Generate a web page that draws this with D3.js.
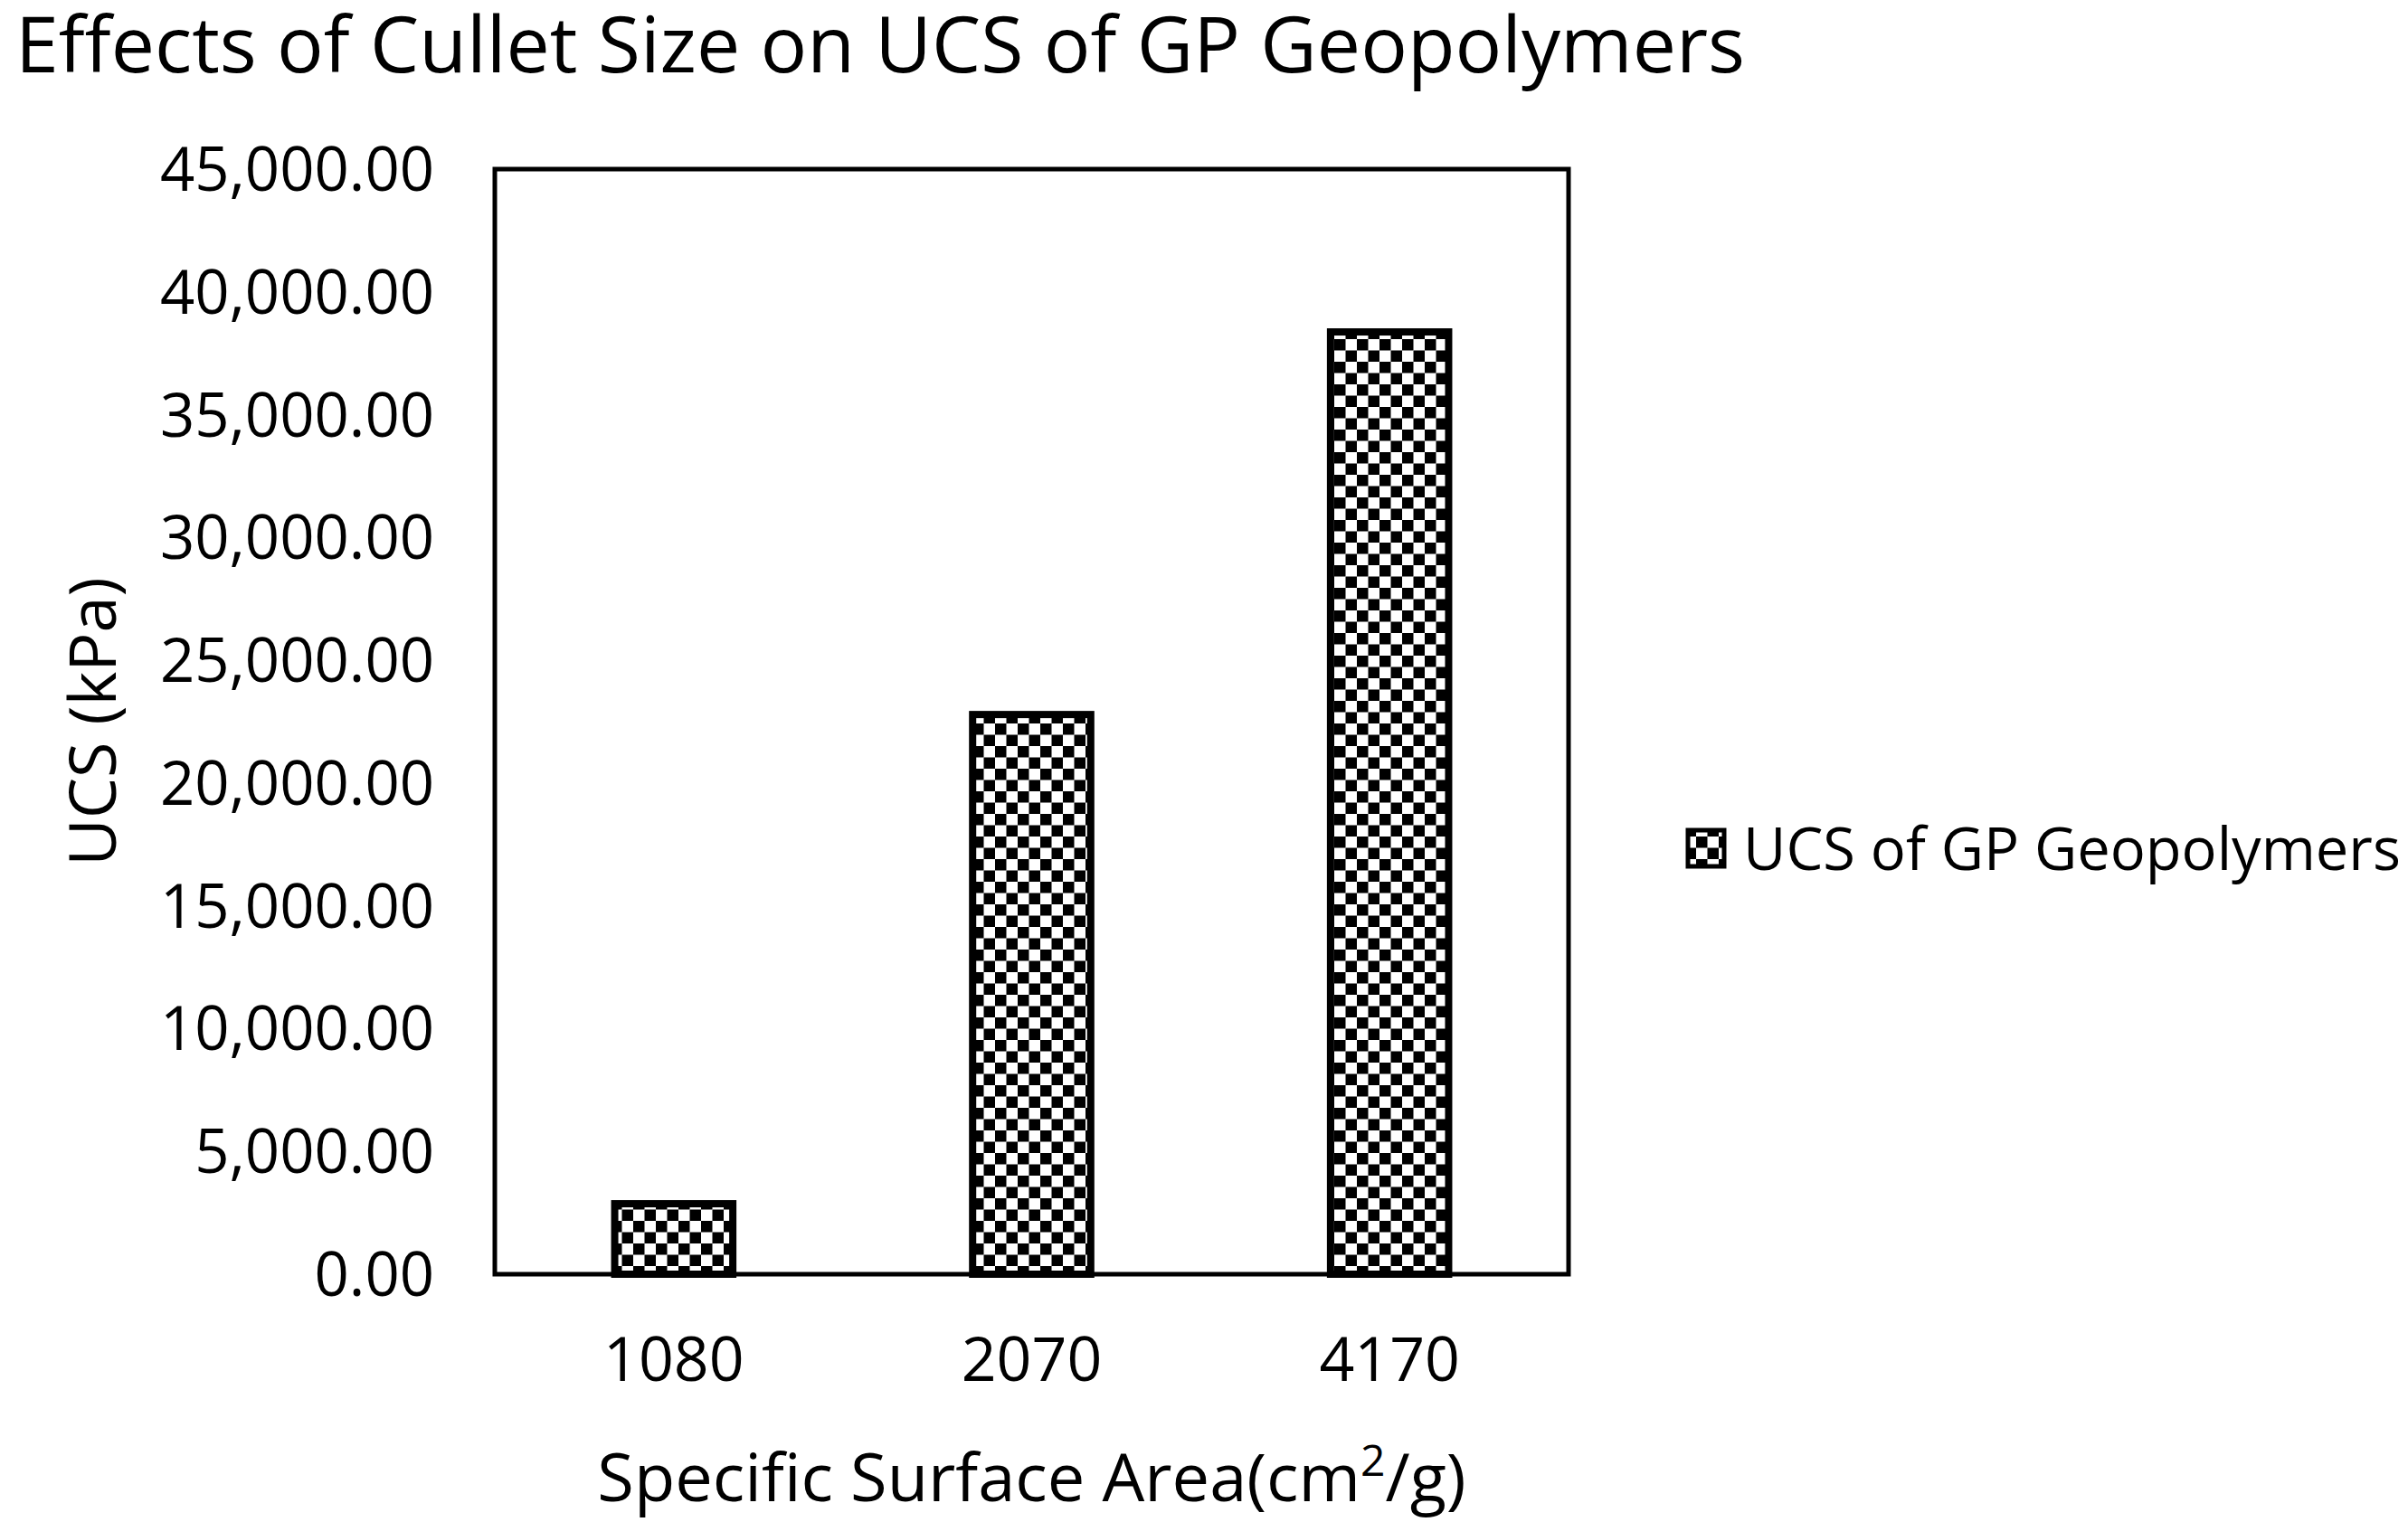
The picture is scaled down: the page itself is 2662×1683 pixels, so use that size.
<!DOCTYPE html><html><head><meta charset="utf-8">
<script src="https://cdn.jsdelivr.net/npm/d3@7"></script>
<style>body{margin:0;background:#fff}text{font-family:"Open Sans",sans-serif;fill:#000}</style></head><body>
<svg id="c" width="2662" height="1683"></svg>
<script>
const categories=["1080","2070","4170"];
const values=[2870,22790,38370];
const yTicks=[0,5000,10000,15000,20000,25000,30000,35000,40000,45000];
const seriesName="UCS of GP Geopolymers";
const svg=d3.select("#c");
const L=547,R=1734,T=187,B=1409;
const x=d3.scaleBand().domain(categories).range([L,R]).paddingInner(0.67).paddingOuter(0.335);
const y=d3.scaleLinear().domain([0,45000]).range([B,T]);
const defs=svg.append("defs");
const p=defs.append("pattern").attr("id","chk").attr("patternUnits","userSpaceOnUse").attr("width",25).attr("height",25);
p.append("rect").attr("width",25).attr("height",25).attr("fill","#fff");
p.append("rect").attr("width",12.5).attr("height",12.5).attr("fill","#000");
p.append("rect").attr("x",12.5).attr("y",12.5).attr("width",12.5).attr("height",12.5).attr("fill","#000");
svg.append("text").attr("x",17).attr("y",80).attr("font-size",86).text("Effects of Cullet Size on UCS of GP Geopolymers");
svg.selectAll(".bar").data(values).join("rect").attr("x",(d,i)=>x(categories[i])).attr("y",d=>y(d))
 .attr("width",x.bandwidth()).attr("height",d=>B-y(d)).attr("fill","url(#chk)").attr("stroke","#000").attr("stroke-width",8);
svg.append("rect").attr("x",L).attr("y",T).attr("width",R-L).attr("height",B-T).attr("fill","none").attr("stroke","#000").attr("stroke-width",5);
const fmt=d3.format(",.2f");
const ya=svg.append("g").attr("transform",`translate(${L},0)`).call(d3.axisLeft(y).tickValues(yTicks).tickFormat(fmt).tickSize(0).tickPadding(67));
ya.select(".domain").remove();
ya.selectAll("text").attr("font-size",67).attr("font-family","Open Sans").attr("dy","0.35em");
const xa=svg.append("g").attr("transform",`translate(0,${B})`).call(d3.axisBottom(x).tickSize(0).tickPadding(70));
xa.select(".domain").remove();
xa.selectAll("text").attr("font-size",68).attr("font-family","Open Sans");
const xt=svg.append("text").attr("x",(L+R)/2).attr("y",1660).attr("text-anchor","middle").attr("font-size",74);
xt.append("tspan").text("Specific Surface Area(cm");
xt.append("tspan").attr("font-size",48).attr("dy",-28).text("2");
xt.append("tspan").attr("dy",28).text("/g)");
svg.append("text").attr("transform","translate(128,798) rotate(-90)").attr("text-anchor","middle").attr("font-size",72).text("UCS (kPa)");
svg.append("rect").attr("x",1866).attr("y",918).attr("width",40).attr("height",40).attr("fill","url(#chk)").attr("stroke","#000").attr("stroke-width",5);
svg.append("text").attr("x",1927).attr("y",962).attr("font-size",65).text(seriesName);
</script></body></html>
